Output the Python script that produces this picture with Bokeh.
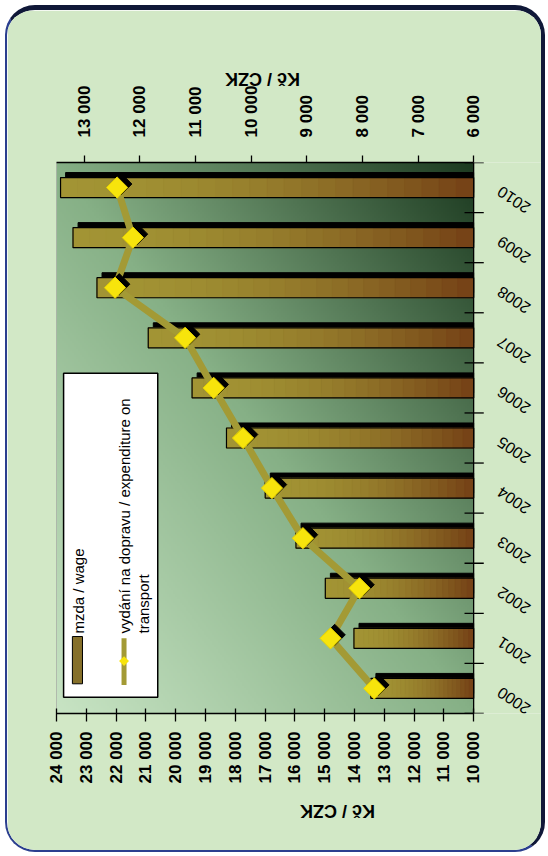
import numpy as np
from bokeh.plotting import figure
from bokeh.models import (Range1d, LinearAxis, FixedTicker, ColumnDataSource, Label)
from bokeh.transform import dodge
from bokeh.core.properties import value
from bokeh.embed import file_html
from bokeh.resources import INLINE

# ---------------- data ----------------
years = [str(y) for y in range(2000, 2011)]
wage = [13450, 14017, 14978, 15963, 16995, 18295, 19450, 20921, 22642, 23446, 23864]
transport = [7786, 8573, 8052, 9069, 9626, 10146, 10673, 11188, 12447, 12126, 12410]
wage_ticks = list(range(10000, 25000, 1000))
transport_ticks = list(range(6000, 14000, 1000))
axis_title = "Kč / CZK"
legend_wage = "mzda / wage"
legend_transport_1 = "vydání na dopravu / expenditure on"
legend_transport_2 = "transport"


def fmt(v):
    return f"{v:,}".replace(",", " ")


FONT = "Liberation Sans"
BASE = wage_ticks[0]
ypos = [i + 0.5 for i in range(len(years))]
bounds_y = list(range(len(years) + 1))

# layout: plot area 412 px wide inside a 481 px frame (year labels live in the extra room)
PLOT_W, FRAME_W = 412.0, 481.0
ext = FRAME_W / PLOT_W
W_MAX, W_MIN = 24000, 10000
E_MAX, E_MIN = 13500, 6000

p = figure(width=540, height=847,
           x_range=Range1d(W_MAX, W_MAX - (W_MAX - W_MIN) * ext),
           y_range=Range1d(0, len(years)),
           x_axis_location="below", y_axis_location=None,
           output_backend="svg", toolbar_location=None,
           min_border_left=49, min_border_right=4, min_border_top=152, min_border_bottom=144)
p.extra_x_ranges = {"exp": Range1d(E_MAX, E_MAX - (E_MAX - E_MIN) * ext),
                    "bg": Range1d(0, ext)}
p.extra_y_ranges = {"bg": Range1d(0, 1)}
p.grid.visible = False
p.border_fill_color = "#d2e8c6"
p.background_fill_color = "#d2e8c6"
p.outline_line_color = None
p.styles = {"border-radius": "30px", "overflow": "hidden",
            "margin-left": "5px", "margin-top": "5px",
            "border-top": "5px solid #101838", "border-right": "4px solid #101838",
            "border-left": "2px solid #2b3f8f", "border-bottom": "2px solid #2b3f8f"}

# ---------------- plot-area gradient ----------------
ny, nx = 272, 206
u = np.linspace(0, 1, nx)[None, :]
v = np.linspace(0, 1, ny)[:, None]
t = (u + v) / 2.0
light = np.array([200, 228, 196], dtype=float)
mid = np.array([134, 176, 134], dtype=float)
dark = np.array([28, 58, 32], dtype=float)
rgb = np.empty((ny, nx, 3))
for c in range(3):
    a = light[c] + (mid[c] - light[c]) * np.clip(t / 0.5, 0, 1)
    b = mid[c] + (dark[c] - mid[c]) * np.clip((t - 0.5) / 0.5, 0, 1)
    rgb[:, :, c] = np.where(t < 0.5, a, b)
img = np.empty((ny, nx), dtype=np.uint32)
view = img.view(dtype=np.uint8).reshape((ny, nx, 4))
view[:, :, :3] = rgb.astype(np.uint8)
view[:, :, 3] = 255
p.image_rgba(image=[img], x=0, y=0, dw=1, dh=1, x_range_name="bg", y_range_name="bg")
# plot-area left edge
p.segment(x0=0, y0=0, x1=0, y1=1, x_range_name="bg", y_range_name="bg",
          line_color="#8a8a8a", line_width=1)

# ---------------- bars ----------------
src = ColumnDataSource(dict(year=years, y=ypos, wage=wage, transport=transport))

# 3D top / shadow
p.hbar(y=dodge("y", 0.1), left=dodge("wage", -170), right=BASE,
       height=0.4, source=src, fill_color="black", line_color="black")

# gradient face built from segments
K = 24
olive = np.array([162, 148, 52], dtype=float)
brown = np.array([116, 64, 22], dtype=float)
seg = dict(y=[], left=[], right=[], color=[])
for yy, w in zip(ypos, wage):
    edges = np.linspace(w, BASE, K + 1)
    for k in range(K):
        tt = ((k + 0.5) / K) ** 1.8
        col = olive + (brown - olive) * tt
        seg["y"].append(yy)
        seg["left"].append(edges[k])
        seg["right"].append(edges[k + 1])
        seg["color"].append("#%02x%02x%02x" % tuple(int(round(x)) for x in col))
p.hbar(y="y", left="left", right="right", height=0.4, source=ColumnDataSource(seg),
       fill_color="color", line_color="color", line_width=1)
p.hbar(y="y", left="wage", right=BASE, height=0.4, source=src,
       fill_color=None, line_color="black", line_width=1.2)

# ---------------- line ----------------
p.line(x="transport", y="y", source=src, x_range_name="exp",
       line_color="#a39a35", line_width=7, line_join="round")
p.scatter(x=dodge("transport", -75), y=dodge("y", 0.07), source=src,
          x_range_name="exp", marker="square", angle=np.pi / 4, size=15,
          fill_color="black", line_color="black")
p.scatter(x="transport", y="y", source=src, x_range_name="exp",
          marker="square", angle=np.pi / 4, size=15,
          fill_color="#f7e40c", line_color="#e8d400", line_width=1)

# ---------------- right (category) axis drawn in the frame ----------------
p.segment(x0=1, y0=0, x1=1, y1=len(years), x_range_name="bg",
          line_color="black", line_width=1.3)
p.segment(x0=1 - 9 / PLOT_W, y0=bounds_y, x1=1 + 10 / PLOT_W, y1=bounds_y, x_range_name="bg",
          line_color="black", line_width=1.3)
p.text(x=1 + 54 / PLOT_W, y=dodge("y", -0.45), text="year", source=src, x_range_name="bg",
       angle=2.55, text_align="left", text_baseline="middle",
       text_font=value(FONT), text_font_size="16px", text_color="black")

# ---------------- legend ----------------
p.quad(left=0.017, right=0.2427, bottom=0.0294, top=0.6176,
       x_range_name="bg", y_range_name="bg",
       fill_color="white", line_color="black", line_width=1.5)
p.quad(left=0.0381, right=0.0623, bottom=0.0539, top=0.1397,
       x_range_name="bg", y_range_name="bg",
       fill_color="#86702a", line_color="black", line_width=1)
p.segment(x0=0.1619, y0=0.0515, x1=0.1619, y1=0.1366,
          x_range_name="bg", y_range_name="bg", line_color="#a39a35", line_width=5)
p.scatter(x=0.1619, y=0.0951, x_range_name="bg", y_range_name="bg",
          marker="square", angle=np.pi / 4, size=7, fill_color="#f7e40c", line_color=None)
for txt, xx in [(legend_wage, 0.0517), (legend_transport_1, 0.1619), (legend_transport_2, 0.208)]:
    p.add_layout(Label(x=xx, y=0.1452, x_range_name="bg", y_range_name="bg", text=txt,
                       angle=np.pi / 2, text_align="left", text_baseline="middle",
                       text_font=FONT, text_font_size="15px", text_color="black"))

# ---------------- value axes ----------------
xa = p.xaxis[0]
xa.ticker = FixedTicker(ticks=wage_ticks)
xa.major_label_overrides = {t_: fmt(t_) for t_ in wage_ticks}
xa.bounds = (W_MIN, W_MAX)

top = LinearAxis(x_range_name="exp", ticker=FixedTicker(ticks=transport_ticks))
top.major_label_overrides = {t_: fmt(t_) for t_ in transport_ticks}
top.bounds = (E_MIN, E_MAX)
p.add_layout(top, "above")

for ax, tin, tout, sto, lsto in [(xa, 5, 8, 10, 24), (top, 0, 7, 18, 4)]:
    ax.major_label_orientation = np.pi / 2
    ax.major_label_text_font = FONT
    ax.major_label_text_font_style = "bold"
    ax.major_label_text_font_size = "17px"
    ax.major_label_text_color = "black"
    ax.major_label_standoff = sto
    ax.major_tick_in = tin
    ax.major_tick_out = tout
    ax.minor_tick_line_color = None
    ax.axis_line_color = "black"
    ax.major_tick_line_color = "black"
    ax.axis_line_width = 1.3
    ax.major_tick_line_width = 1.3
    ax.axis_label = axis_title
    ax.axis_label_text_font = FONT
    ax.axis_label_text_font_style = "bold"
    ax.axis_label_text_font_size = "18px"
    ax.axis_label_text_color = "black"
    ax.axis_label_standoff = lsto
    try:
        ax.axis_label_orientation = np.pi
    except Exception:
        pass

open("out.html", "w").write(file_html(p, INLINE))
